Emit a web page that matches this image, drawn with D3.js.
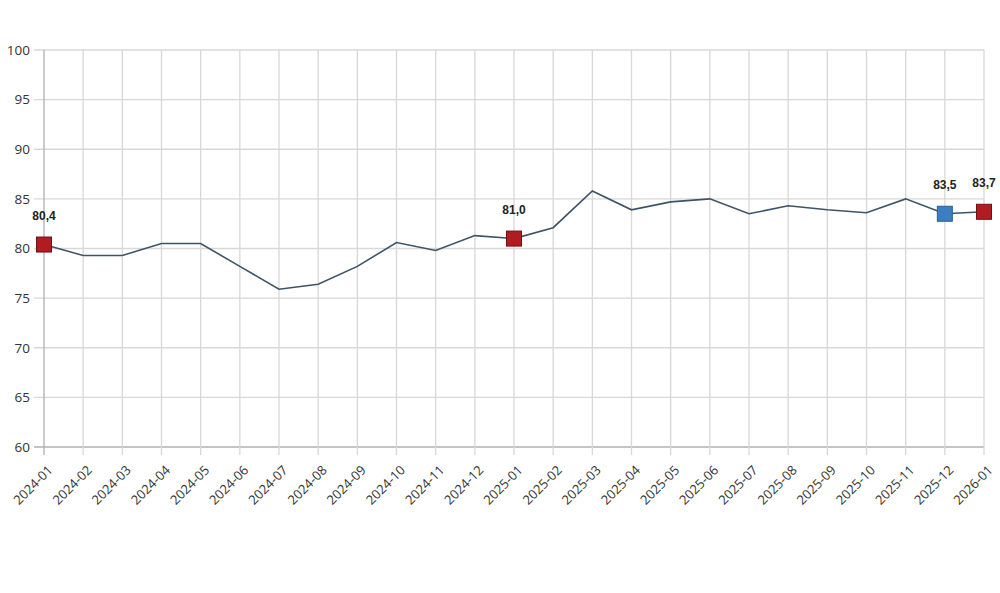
<!DOCTYPE html>
<html>
<head>
<meta charset="utf-8">
<script src="https://cdn.jsdelivr.net/npm/d3@7"></script>
<style>
  body { margin: 0; background: #fff; }
  svg { display: block; }
</style>
</head>
<body>
<svg id="chart" width="1000" height="593"></svg>
<script>
// data
var months = ["2024-01","2024-02","2024-03","2024-04","2024-05","2024-06","2024-07","2024-08",
    "2024-09","2024-10","2024-11","2024-12","2025-01","2025-02","2025-03","2025-04","2025-05",
    "2025-06","2025-07","2025-08","2025-09","2025-10","2025-11","2025-12","2026-01"];
var values = [80.4, 79.3, 79.3, 80.5, 80.5, 78.2, 75.9, 76.4, 78.2, 80.6, 79.8, 81.3, 81.0,
    82.1, 85.8, 83.9, 84.7, 85.0, 83.5, 84.3, 83.9, 83.6, 85.0, 83.5, 83.7];
var yTicks = [60, 65, 70, 75, 80, 85, 90, 95, 100];
// highlighted points
var markedMonths = ["2024-01", "2025-01", "2025-12", "2026-01"];
var markedColors = ["red", "red", "blue", "red"];

var data = months.map(function (m, i) { return { month: m, value: values[i] }; });

var svg = d3.select("#chart");
const margin = { top: 50, right: 16, bottom: 146, left: 44 };
const width = 1000, height = 593;
const Innerwidth = width - margin.left - margin.right;
const Innerheight = height - margin.top - margin.bottom;

var g = svg.append("g").attr("transform", `translate(${margin.left},${margin.top})`);

var xScale = d3.scalePoint().domain(months).range([0, Innerwidth]);
var yScale = d3.scaleLinear().domain([60, 100]).range([Innerheight, 0]);

// horizontal grid
g.append("g")
    .selectAll("line")
    .data(yTicks)
    .enter().append("line")
    .attr("x1", -10).attr("x2", Innerwidth)
    .attr("y1", d => yScale(d)).attr("y2", d => yScale(d))
    .attr("stroke", d => d === 60 ? "#b0b0b0" : "#d8d8d8")
    .attr("stroke-width", 1.3);

// vertical grid
g.append("g")
    .selectAll("line")
    .data(months)
    .enter().append("line")
    .attr("x1", d => xScale(d)).attr("x2", d => xScale(d))
    .attr("y1", 0).attr("y2", Innerheight + 8)
    .attr("stroke", (d, i) => i === 0 ? "#b0b0b0" : "#d8d8d8")
    .attr("stroke-width", 1.3);

// y axis labels
var yAxis = g.append("g")
    .attr("transform", "translate(-14,0)")
    .call(d3.axisLeft(yScale).tickValues(yTicks).tickSize(0).tickPadding(0));
yAxis.select(".domain").remove();
yAxis.selectAll("text")
    .style("font-family", "'Open Sans', sans-serif")
    .style("font-size", "13.5px")
    .attr("fill", "#333");

// x axis labels
var xAxis = g.append("g")
    .attr("transform", `translate(0,${Innerheight})`)
    .call(d3.axisBottom(xScale).tickSize(0).tickPadding(0));
xAxis.select(".domain").remove();
xAxis.selectAll("text")
    .style("font-family", "'Open Sans', sans-serif")
    .style("font-size", "13px")
    .attr("fill", "#333")
    .style("text-anchor", "end")
    .attr("dy", 0)
    .attr("transform", "translate(9,24) rotate(-45)");

// line
var line = d3.line()
    .x(d => xScale(d.month))
    .y(d => yScale(d.value));

g.append("path")
    .datum(data)
    .attr("fill", "none")
    .attr("stroke", "#3d5366")
    .attr("stroke-width", 1.6)
    .attr("d", line);

// markers
var palette = { red: ["#b01c22", "#6e1015"], blue: ["#3b7fc0", "#2a5f94"] };
var marked = data.filter(d => markedMonths.indexOf(d.month) >= 0);
var size = 15;

g.selectAll(".marker")
    .data(marked)
    .enter().append("rect")
    .attr("class", "marker")
    .attr("x", d => xScale(d.month) - size / 2)
    .attr("y", d => yScale(d.value) - size / 2)
    .attr("width", size)
    .attr("height", size)
    .attr("fill", d => palette[markedColors[markedMonths.indexOf(d.month)]][0])
    .attr("stroke", d => palette[markedColors[markedMonths.indexOf(d.month)]][1])
    .attr("stroke-width", 1);

g.selectAll(".value-label")
    .data(marked)
    .enter().append("text")
    .attr("class", "value-label")
    .attr("x", d => xScale(d.month))
    .attr("y", d => yScale(d.value) - 25)
    .attr("text-anchor", "middle")
    .style("font-family", "'Liberation Sans', Arial, sans-serif")
    .style("font-size", "12px")
    .style("font-weight", "bold")
    .attr("fill", "#222")
    .text(d => d3.format(".1f")(d.value).replace(".", ","));
</script>
</body>
</html>
